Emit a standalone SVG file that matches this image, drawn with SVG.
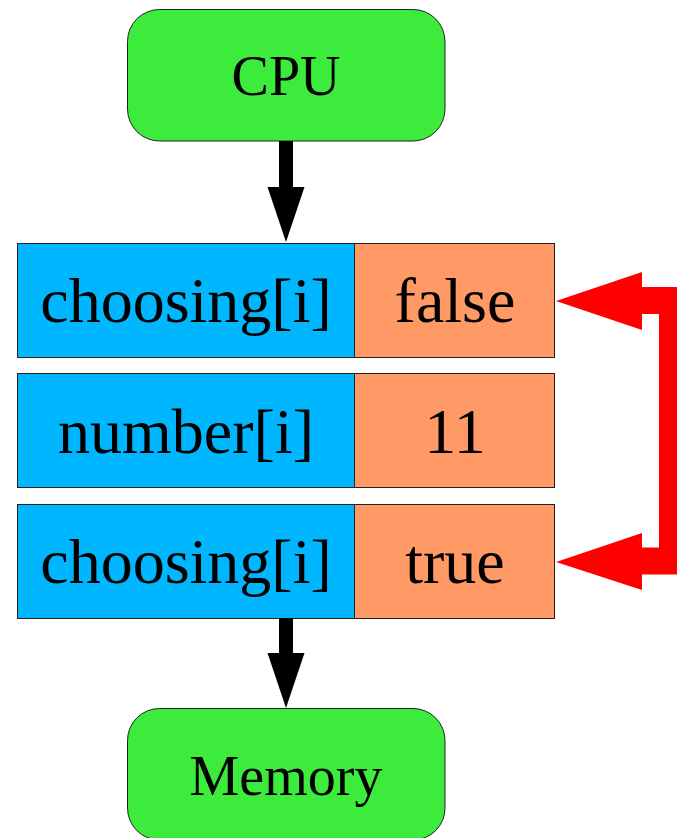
<svg xmlns="http://www.w3.org/2000/svg" width="677" height="838" viewBox="0 0 677 838">
<style>
.term{fill:#3deb3d;stroke:#222;stroke-width:1}
.key{fill:#00b6ff;stroke:#222;stroke-width:1}
.val{fill:#ff9966;stroke:#222;stroke-width:1}
text{font-family:"Liberation Serif","Times New Roman",serif;fill:#000;text-anchor:middle}
.big{font-size:56px}
.cell{font-size:64px}
</style>
<rect width="677" height="838" fill="#fff"/>
<g id="cpu">
<rect class="term" x="127.5" y="9.5" width="317.5" height="131.5" rx="32"/>
<text class="big" x="286" y="95">CPU</text>
</g>
<g id="row1">
<rect class="key" x="17.5" y="243.5" width="337" height="114"/>
<rect class="val" x="354.5" y="243.5" width="200" height="114"/>
<text class="cell" x="186" y="322">choosing[i]</text>
<text class="cell" x="455" y="322">false</text>
</g>
<g id="row2">
<rect class="key" x="17.5" y="373.5" width="337" height="114"/>
<rect class="val" x="354.5" y="373.5" width="200" height="114"/>
<text class="cell" x="186" y="453">number[i]</text>
<text class="cell" x="455" y="453">11</text>
</g>
<g id="row3">
<rect class="key" x="17.5" y="504.5" width="337" height="114"/>
<rect class="val" x="354.5" y="504.5" width="200" height="114"/>
<text class="cell" x="186" y="583">choosing[i]</text>
<text class="cell" x="455" y="583">true</text>
</g>
<g id="memory">
<rect class="term" x="127.5" y="708.5" width="317.5" height="131.5" rx="32"/>
<text class="big" x="286" y="795">Memory</text>
</g>
<g id="connectors">
<rect x="279" y="141" width="14" height="47" fill="#000"/>
<polygon points="267.5,187 304.5,187 286,242" fill="#000"/>
<rect x="279" y="618" width="14" height="36" fill="#000"/>
<polygon points="267.5,653 304.5,653 286,708" fill="#000"/>
<polyline points="641,561 672.5,561 672.5,300.5 641,300.5" fill="none" stroke="#ff0000" stroke-width="27"/>
<polygon points="642,272 642,330 556,301" fill="#ff0000"/>
<polygon points="642,533 642,590 556,562" fill="#ff0000"/>
</g>
</svg>
